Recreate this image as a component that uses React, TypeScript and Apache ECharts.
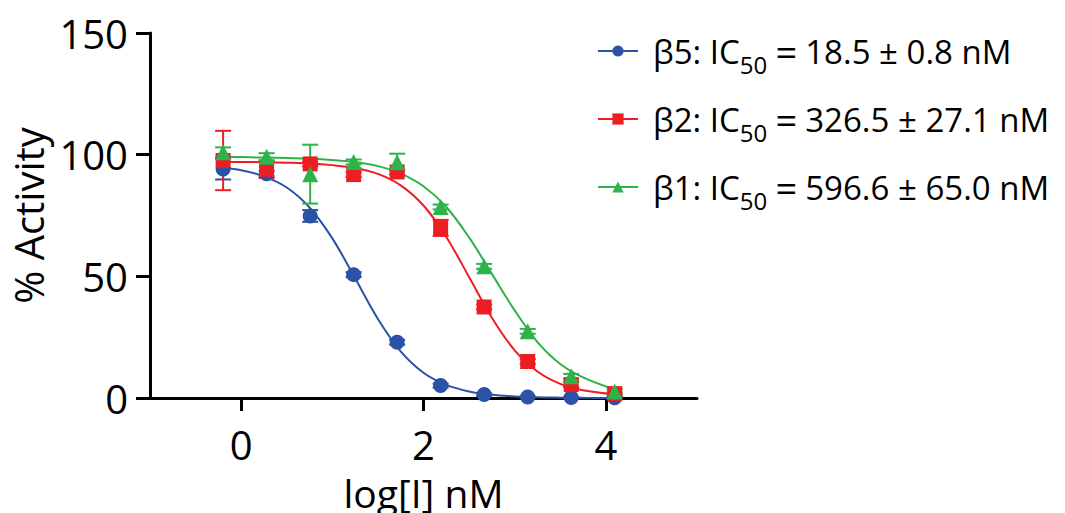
import React, { useEffect, useRef } from "react";
import * as echarts from "echarts";

// ---- data ----
const seriesNames = ["β5", "β2", "β1"];
const seriesColors = ["#2A52A6", "#EE1D23", "#2DB34A"];
const seriesSymbols = ["circle", "rect", "triangle"];
const ic50Values = ["18.5", "326.5", "596.6"];
const ic50Errors = ["0.8", "27.1", "65.0"];

// log10 of inhibitor concentration (nM)
const logConc = [-0.198, 0.279, 0.757, 1.234, 1.711, 2.188, 2.665, 3.143, 3.62, 4.097];

const b5Mean = [94.1, 92.2, 74.8, 50.7, 22.9, 5.1, 1.4, 0.4, 0.2, 0.1];
const b5Err = [4.3, 1.0, 2.4, 1.0, 1.0, 0.8, 0.5, 0.3, 0.3, 0.3];

const b2Mean = [97.6, 94.0, 96.2, 91.8, 92.9, 69.9, 37.4, 15.0, 5.5, 1.8];
const b2Err = [12.2, 3.6, 1.0, 1.0, 1.0, 3.3, 1.0, 1.0, 1.0, 0.5];

const b1Mean = [101.0, 99.1, 92.0, 97.0, 96.9, 78.5, 54.1, 27.4, 8.9, 2.7];
const b1Err = [2.0, 1.5, 12.1, 1.0, 3.5, 1.0, 1.0, 1.0, 1.0, 1.0];

// fitted curves
const curveX = [-0.2, 0, 0.25, 0.5, 0.75, 1, 1.25, 1.5, 1.75, 2, 2.25, 2.5, 2.75, 3, 3.25, 3.5, 3.75, 4.1];
const b5Fit = [94.6, 93.6, 91.1, 86.5, 78.3, 65.6, 49.2, 32.5, 19.2, 10.4, 5.4, 2.7, 1.3, 0.65, 0.3, 0.15, 0.07, 0.03];
const b2Fit = [97.0, 97.0, 96.9, 96.7, 96.4, 95.7, 94.5, 92.1, 87.4, 79.1, 66.2, 49.7, 33.0, 19.6, 10.9, 5.8, 3.2, 1.5];
const b1Fit = [99.0, 99.0, 98.8, 98.6, 98.4, 97.8, 97.0, 95.3, 92.2, 87.0, 78.5, 66.0, 51.0, 36.0, 23.0, 14.0, 8.5, 3.5];

const xTicks = [0, 2, 4];
const yTicks = [0, 50, 100, 150];

const FONT = "Open Sans";

export default function App() {
  const ref = useRef<HTMLDivElement>(null);

  useEffect(() => {
    if (!ref.current) return;
    const chart = echarts.init(ref.current, undefined, { renderer: "svg" });

    const means = [b5Mean, b2Mean, b1Mean];
    const errs = [b5Err, b2Err, b1Err];
    const fits = [b5Fit, b2Fit, b1Fit];

    const series: any[] = [];
    seriesNames.forEach((name, i) => {
      series.push({
        type: "line",
        name,
        data: curveX.map((x, j) => [x, fits[i][j]]),
        smooth: 0.35,
        showSymbol: false,
        symbol: seriesSymbols[i],
        symbolSize: 14,
        lineStyle: { color: seriesColors[i], width: 2 },
        itemStyle: { color: seriesColors[i] },
        z: 2,
        silent: true,
      });
    });
    seriesNames.forEach((name, i) => {
      series.push({
        type: "custom",
        name: name + " error",
        data: logConc.map((x, j) => [x, means[i][j] - errs[i][j], means[i][j] + errs[i][j]]),
        encode: { x: 0, y: [1, 2] },
        renderItem: (params: any, api: any) => {
          const x = api.value(0);
          const lo = api.coord([x, api.value(1)]);
          const hi = api.coord([x, api.value(2)]);
          const hw = 8;
          const st = { stroke: seriesColors[i], lineWidth: 2 };
          return {
            type: "group",
            children: [
              { type: "line", shape: { x1: lo[0], y1: lo[1], x2: hi[0], y2: hi[1] }, style: st },
              { type: "line", shape: { x1: lo[0] - hw, y1: lo[1], x2: lo[0] + hw, y2: lo[1] }, style: st },
              { type: "line", shape: { x1: hi[0] - hw, y1: hi[1], x2: hi[0] + hw, y2: hi[1] }, style: st },
            ],
          };
        },
        z: 3,
        silent: true,
      });
      series.push({
        type: "scatter",
        name: name + " data",
        data: logConc.map((x, j) => [x, means[i][j]]),
        symbol: seriesSymbols[i],
        symbolSize: seriesSymbols[i] === "triangle" ? 16 : 15,
        itemStyle: { color: seriesColors[i], opacity: 1 },
        z: 4,
        silent: true,
      });
    });

    const axisCommon = {
      axisLine: { show: true, onZero: false, lineStyle: { color: "#000", width: 3 } },
      splitLine: { show: false },
    };

    chart.setOption({
      animation: false,
      backgroundColor: "#fff",
      grid: { left: 150, right: 368, top: 33, bottom: 115, outerBoundsMode: "none", containLabel: false },
      legend: {
        orient: "vertical",
        left: 592,
        top: 27,
        itemGap: 24,
        itemWidth: 40,
        itemHeight: 14,
        data: seriesNames,
        selectedMode: false,
        formatter: (name: string) => {
          const i = seriesNames.indexOf(name);
          return `{g|}${name}: IC{s|50}{e|=}${ic50Values[i]} ± ${ic50Errors[i]} nM`;
        },
        textStyle: {
          fontFamily: FONT,
          fontSize: 33,
          color: "#000",
          rich: {
            g: { width: 10 },
            s: { fontFamily: FONT, fontSize: 24, color: "#000", padding: [26, 0, 0, 0] },
            e: { fontFamily: FONT, fontSize: 38, color: "#000", width: 38, align: "center" },
          },
        },
      },
      xAxis: {
        type: "value",
        min: -1,
        max: 5,
        ...axisCommon,
        axisTick: { show: true, length: 13, lineStyle: { color: "#000", width: 3 }, customValues: xTicks },
        axisLabel: { customValues: xTicks, fontFamily: FONT, fontSize: 40, color: "#000", margin: 26 },
        name: "log[I] nM",
        nameLocation: "middle",
        nameGap: 75,
        nameTextStyle: { fontFamily: FONT, fontSize: 39, color: "#000" },
      },
      yAxis: {
        type: "value",
        min: 0,
        max: 150,
        interval: 50,
        ...axisCommon,
        axisTick: { show: true, length: 14, lineStyle: { color: "#000", width: 3 }, customValues: yTicks },
        axisLabel: { customValues: yTicks, fontFamily: FONT, fontSize: 40, color: "#000", margin: 22 },
        name: "% Activity",
        nameLocation: "middle",
        nameGap: 100,
        nameTextStyle: { fontFamily: FONT, fontSize: 40, color: "#000" },
      },
      series,
    });

    return () => chart.dispose();
  }, []);

  return (
    <div
      ref={ref}
      style={{ position: "absolute", left: 0, top: 0, width: 1065, height: 513 }}
    />
  );
}
